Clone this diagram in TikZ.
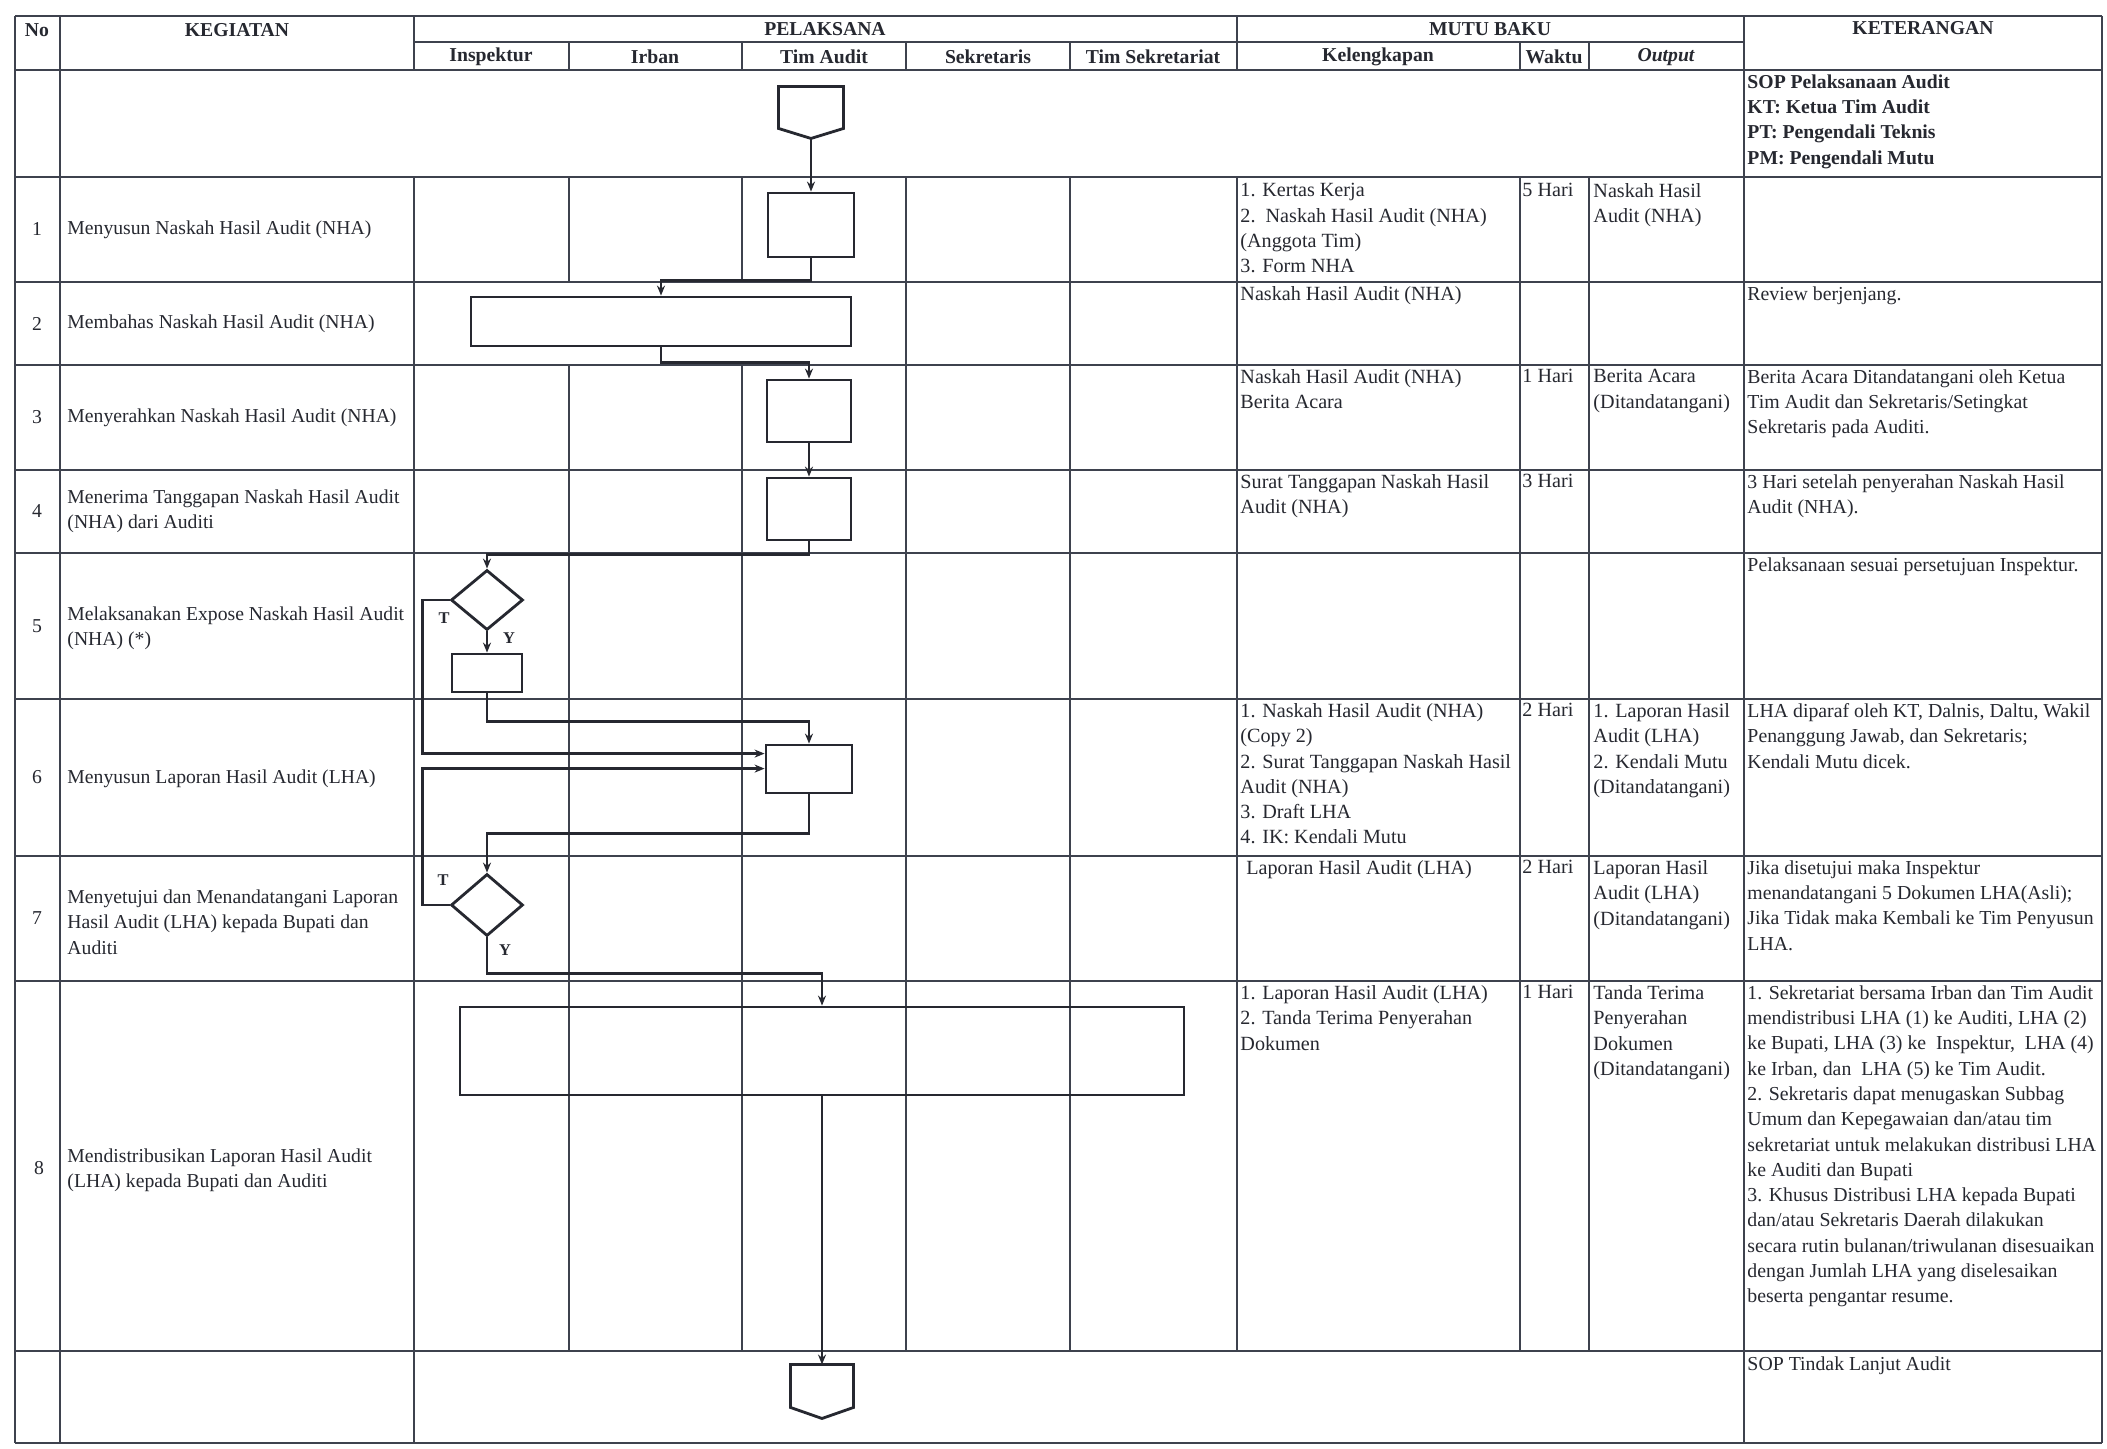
\documentclass[tikz,border=0pt]{standalone}
\usepackage{fontspec}
\setmainfont{Liberation Serif}
\usetikzlibrary{arrows.meta,calc,shapes.geometric}
\newlength\pxu
\setlength\pxu{0.15mm}
\definecolor{ink}{RGB}{38,40,48}
\definecolor{gridc}{RGB}{62,66,78}
\begin{document}
\begin{tikzpicture}[x=0.15mm,y=-0.15mm,
  tline/.style={gridc, line width=0.6pt},
  flow/.style={ink, line width=1.2pt, line join=miter},
  arr/.style={flow, -{Stealth[length=1.5mm,width=1.2mm]}},
  proc/.style={draw=ink, line width=1.2pt, rectangle, inner sep=0pt},
  dec/.style={draw=ink, line width=1.2pt, diamond, inner sep=0pt},
  cell/.style={font=\fontsize{8.6}{10.8}\selectfont, text=ink, align=left, inner sep=0pt, anchor=north west},
  ket/.style={cell, font=\fontsize{8.45}{10.8}\selectfont},
  keg/.style={font=\fontsize{8.4}{10.8}\selectfont, text=ink, align=left, inner sep=0pt, anchor=west},
  num/.style={font=\fontsize{8.4}{10.8}\selectfont, text=ink, inner sep=0pt},
  hd/.style={font=\fontsize{8.4}{10}\selectfont\bfseries, text=ink, inner sep=0pt},
  lab/.style={font=\fontsize{7}{8}\selectfont\bfseries, text=ink, inner sep=0pt}
]
\useasboundingbox (0,0) rectangle (2107,1449);
\fill[white] (0,0) rectangle (2107,1449);

% ---------- grid ----------
\foreach \yy in {16,70,177,282,365,470,553,699,856,981,1351,1443}
  \draw[tline] (15,\yy) -- (2102,\yy);
\draw[tline] (414,42) -- (1744,42);
\draw[tline] (15,16) -- (15,1443);
\draw[tline] (60,16) -- (60,1443);
\draw[tline] (414,16) -- (414,70) (414,177) -- (414,1443);
\draw[tline] (569,42) -- (569,70) (569,177) -- (569,282) (569,365) -- (569,1351);
\draw[tline] (742,42) -- (742,70) (742,177) -- (742,282) (742,365) -- (742,1351);
\foreach \xx in {906,1070,1520,1589}
  \draw[tline] (\xx,42) -- (\xx,70) (\xx,177) -- (\xx,1351);
\draw[tline] (1237,16) -- (1237,70) (1237,177) -- (1237,1351);
\draw[tline] (1744,16) -- (1744,1443);
\draw[tline] (2102,16) -- (2102,1443);

% ---------- headers ----------
\node[hd] (hNo) at (37,30) {No};
\node[hd] (hKeg) at (237,30) {KEGIATAN};
\node[hd] (hPel) at (825,29) {PELAKSANA};
\node[hd] (hMutu) at (1490,29) {MUTU BAKU};
\node[hd] (hKet) at (1923,28) {KETERANGAN};
\node[hd] (hIns) at (491,57) {Inspektur};
\node[hd] (hIrb) at (655,57) {Irban};
\node[hd] (hTim) at (824,57) {Tim Audit};
\node[hd] (hSek) at (988,57) {Sekretaris};
\node[hd] (hTS) at (1153,57) {Tim Sekretariat};
\node[hd] (hKel) at (1378,57) {Kelengkapan};
\node[hd] (hWak) at (1554,57) {Waktu};
\node[hd] (hOut) at (1666,57) {\itshape Output};

% ---------- row 0 ----------
\node[cell, font=\fontsize{8.4}{10.8}\selectfont\bfseries] (k0) at (1747,74)
  {SOP Pelaksanaan Audit\\KT: Ketua Tim Audit\\PT: Pengendali Teknis\\PM: Pengendali Mutu};

% ---------- numbers ----------
\node[num] (n1) at (37,229.5) {1};
\node[num] (n2) at (37,323.5) {2};
\node[num] (n3) at (37,417.5) {3};
\node[num] (n4) at (37,511.5) {4};
\node[num] (n5) at (37,626) {5};
\node[num] (n6) at (37,777.5) {6};
\node[num] (n7) at (37,918.5) {7};
\node[num] (n8) at (39,1168) {8};

% ---------- kegiatan ----------
\node[keg] (g1) at (67,229.5) {Menyusun Naskah Hasil Audit (NHA)};
\node[keg] (g2) at (67,323.5) {Membahas Naskah Hasil Audit (NHA)};
\node[keg] (g3) at (67,417.5) {Menyerahkan Naskah Hasil Audit (NHA)};
\node[keg] (g4) at (67,511.5) {Menerima Tanggapan Naskah Hasil Audit\\(NHA) dari Auditi};
\node[keg] (g5) at (67,628) {Melaksanakan Expose Naskah Hasil Audit\\(NHA) (*)};
\node[keg] (g6) at (67,779) {Menyusun Laporan Hasil Audit (LHA)};
\node[keg] (g7) at (67,922) {Menyetujui dan Menandatangani Laporan\\Hasil Audit (LHA) kepada Bupati dan\\Auditi};
\node[keg] (g8) at (67,1170) {Mendistribusikan Laporan Hasil Audit\\(LHA) kepada Bupati dan Auditi};

% ---------- kelengkapan ----------
\node[cell] (c1) at (1240,183) {1. Kertas Kerja\\2.\ \ Naskah Hasil Audit (NHA)\\(Anggota Tim)\\3. Form NHA};
\node[cell] (c2) at (1240,286) {Naskah Hasil Audit (NHA)};
\node[cell] (c3) at (1240,369) {Naskah Hasil Audit (NHA)\\Berita Acara};
\node[cell] (c4) at (1240,474) {Surat Tanggapan Naskah Hasil\\Audit (NHA)};
\node[cell] (c6) at (1240,703) {1. Naskah Hasil Audit (NHA)\\(Copy 2)\\2. Surat Tanggapan Naskah Hasil\\Audit (NHA)\\3. Draft LHA\\4. IK: Kendali Mutu};
\node[cell] (c7) at (1240,860) {\hspace*{2.5pt}Laporan Hasil Audit (LHA)};
\node[cell] (c8) at (1240,985) {1. Laporan Hasil Audit (LHA)\\2. Tanda Terima Penyerahan\\Dokumen};

% ---------- waktu ----------
\node[cell] (w1) at (1522,183) {5 Hari};
\node[cell] (w3) at (1522,369) {1 Hari};
\node[cell] (w4) at (1522,474) {3 Hari};
\node[cell] (w6) at (1522,703) {2 Hari};
\node[cell] (w7) at (1522,860) {2 Hari};
\node[cell] (w8) at (1522,985) {1 Hari};

% ---------- output ----------
\node[cell] (o1) at (1593,183) {Naskah Hasil\\Audit (NHA)};
\node[cell] (o3) at (1593,369) {Berita Acara\\(Ditandatangani)};
\node[cell] (o6) at (1593,703) {1. Laporan Hasil\\Audit (LHA)\\2. Kendali Mutu\\(Ditandatangani)};
\node[cell] (o7) at (1593,860) {Laporan Hasil\\Audit (LHA)\\(Ditandatangani)};
\node[cell] (o8) at (1593,985) {Tanda Terima\\Penyerahan\\Dokumen\\(Ditandatangani)};

% ---------- keterangan ----------
\node[ket] (k2) at (1747,286) {Review berjenjang.};
\node[ket] (k3) at (1747,369) {Berita Acara Ditandatangani oleh Ketua\\Tim Audit dan Sekretaris/Setingkat\\Sekretaris pada Auditi.};
\node[ket] (k4) at (1747,474) {3 Hari setelah penyerahan Naskah Hasil\\Audit (NHA).};
\node[ket] (k5) at (1747,557) {Pelaksanaan sesuai persetujuan Inspektur.};
\node[ket] (k6) at (1747,703) {LHA diparaf oleh KT, Dalnis, Daltu, Wakil\\Penanggung Jawab, dan Sekretaris;\\Kendali Mutu dicek.};
\node[ket] (k7) at (1747,860) {Jika disetujui maka Inspektur\\menandatangani 5 Dokumen LHA(Asli);\\Jika Tidak maka Kembali ke Tim Penyusun\\LHA.};
\node[ket] (k8) at (1747,985) {1. Sekretariat bersama Irban dan Tim Audit\\mendistribusi LHA (1) ke Auditi, LHA (2)\\ke Bupati, LHA (3) ke\ \ Inspektur,\ \ LHA (4)\\ke Irban, dan\ \ LHA (5) ke Tim Audit.\\2. Sekretaris dapat menugaskan Subbag\\Umum dan Kepegawaian dan/atau tim\\sekretariat untuk melakukan distribusi LHA\\ke Auditi dan Bupati\\3. Khusus Distribusi LHA kepada Bupati\\dan/atau Sekretaris Daerah dilakukan\\secara rutin bulanan/triwulanan disesuaikan\\dengan Jumlah LHA yang diselesaikan\\beserta pengantar resume.};
\node[ket] (k9) at (1747,1356) {SOP Tindak Lanjut Audit};

% ---------- flow shapes ----------
\node[inner sep=0pt, minimum width=64\pxu, minimum height=51\pxu] (start) at (811,112.5) {};
\draw[flow] (start.north west) -- (start.north east) -- ([yshift=10\pxu]start.south east)
  -- (start.south) -- ([yshift=10\pxu]start.south west) -- cycle;
\node[proc, minimum width=86\pxu, minimum height=64\pxu] (b1) at (811,225) {};
\node[proc, minimum width=380\pxu, minimum height=49\pxu] (b2) at (661,321.5) {};
\node[proc, minimum width=84\pxu, minimum height=62\pxu] (b3) at (809,411) {};
\node[proc, minimum width=84\pxu, minimum height=62\pxu] (b4) at (809,509) {};
\node[dec, minimum width=72\pxu, minimum height=60\pxu] (d5) at (487,600) {};
\node[proc, minimum width=70\pxu, minimum height=38\pxu] (b5) at (487,673) {};
\node[proc, minimum width=86\pxu, minimum height=48\pxu] (b6) at (809,769) {};
\node[dec, minimum width=72\pxu, minimum height=62\pxu] (d7) at (487,905) {};
\node[proc, minimum width=724\pxu, minimum height=88\pxu] (b8) at (822,1051) {};
\node[inner sep=0pt, minimum width=62\pxu, minimum height=53\pxu] (end) at (822,1391.5) {};
\draw[flow] (end.north west) -- (end.north east) -- ([yshift=11\pxu]end.south east)
  -- (end.south) -- ([yshift=11\pxu]end.south west) -- cycle;

% ---------- connectors ----------
\draw[arr] (start.south) -- (b1.north);
\draw[arr] (b1.south) -- ++(0,22) -| (b2.north);
\draw[arr] (b2.south) -- ++(0,15) -| (b3.north);
\draw[arr] (b3.south) -- (b4.north);
\draw[arr] (b4.south) -- ++(0,13) -| (d5.north);
\draw[arr] (d5.south) -- (b5.north);
\draw[arr] (b5.south) -- ++(0,28) -| (b6.north);
\draw[arr] (d5.west) -- ++(-27,0) |- ([yshift=-10\pxu]b6.north west);
\draw[arr] (d7.west) -- ++(-27,0) |- ([yshift=-25\pxu]b6.north west);
\draw[arr] (b6.south) -- ++(0,39) -| (d7.north);
\draw[arr] (d7.south) -- ++(0,36) -| (b8.north);
\draw[arr] (b8.south) -- (end.north);

% ---------- labels ----------
\node[lab] (t5) at (444,618) {T};
\node[lab] (y5) at (509,638) {Y};
\node[lab] (t7) at (443,880) {T};
\node[lab] (y7) at (505,950) {Y};
\end{tikzpicture}
\end{document}
